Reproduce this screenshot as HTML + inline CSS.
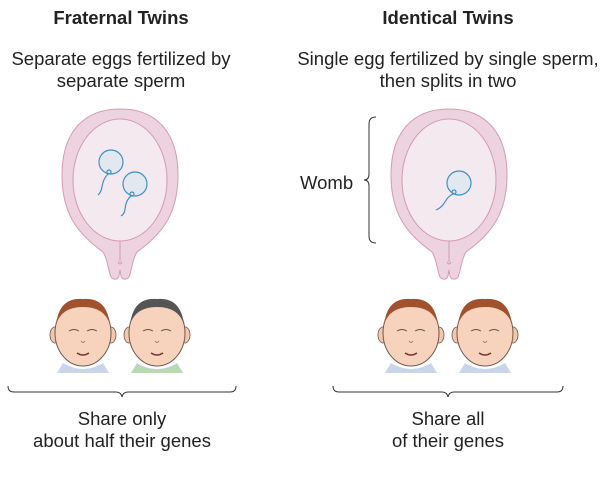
<!DOCTYPE html>
<html><head><style>
body{margin:0;background:#fff;}
svg text{font-family:"Liberation Sans",Arial,sans-serif;fill:#222;}
</style></head><body>
<svg width="600" height="472" viewBox="0 0 600 472" xmlns="http://www.w3.org/2000/svg">
<defs>
<g id="womb">
<path d="M0,109 C36,109 58,132 58,175 C58,214 42,234 17,252 C12,260 12,270 9,277 C7,280 2,280 1,276 L0,270 L-1,276 C-2,280 -7,280 -9,277 C-12,270 -12,260 -17,252 C-42,234 -58,214 -58,175 C-58,132 -36,109 0,109Z" fill="#ecd3df" stroke="#d59ab3" stroke-width="1"/>
<ellipse cx="0" cy="180" rx="47" ry="61" fill="#f5e9f0" stroke="#d59ab3" stroke-width="1"/>
<path d="M0,241 L0,262 M-2,262 Q0,266 2,262" stroke="#d59ab3" fill="none"/>
</g>
<g id="face">
<path d="M-20,30 Q0,42 20,30 L26,40 L-26,40Z" fill="#c9d6ea"/>
<ellipse cx="-28" cy="2" rx="5" ry="8" fill="#f3c6ad" stroke="#6a5a50" stroke-width="0.8"/>
<ellipse cx="28" cy="2" rx="5" ry="8" fill="#f3c6ad" stroke="#6a5a50" stroke-width="0.8"/>
<ellipse cx="0" cy="0" rx="28" ry="33" fill="#f7d3bd" stroke="#6a5a50" stroke-width="1"/>
<path d="M-14,-2 q5,-3 10,0 M4,-2 q5,-3 10,0" stroke="#555" fill="none"/>
<path d="M-2,8 q2,3 4,0" stroke="#a77" fill="none"/>
<path d="M-6,20 q6,4 12,0" stroke="#733" fill="none" stroke-width="1.5"/>
</g>
</defs>
<text x="121" y="24" font-size="18.5" font-weight="bold" text-anchor="middle">Fraternal Twins</text>
<text x="448" y="24" font-size="18.5" font-weight="bold" text-anchor="middle">Identical Twins</text>
<text x="121" y="65" font-size="18.5" text-anchor="middle">Separate eggs fertilized by</text>
<text x="121" y="87" font-size="18.5" text-anchor="middle">separate sperm</text>
<text x="448" y="65" font-size="18.5" text-anchor="middle">Single egg fertilized by single sperm,</text>
<text x="448" y="87" font-size="18.5" text-anchor="middle">then splits in two</text>

<use href="#womb" x="120" y="0"/>
<use href="#womb" x="449" y="0"/>

<g stroke="#3f8fc4" fill="#e2e8f0" stroke-width="1.2">
<circle cx="111" cy="162" r="12"/>
<circle cx="135" cy="184" r="12"/>
<circle cx="459" cy="183" r="12"/>
</g>
<g stroke="#3f8fc4" fill="none" stroke-width="1.2">
<circle cx="109" cy="172" r="2"/><path d="M108,174 C100,182 104,190 98,195"/>
<circle cx="132" cy="194" r="2"/><path d="M131,196 C122,204 128,212 121,216"/>
<circle cx="454" cy="192" r="2"/><path d="M453,194 C444,198 446,206 436,210"/>
</g>

<text x="300" y="189" font-size="18.5">Womb</text>
<path d="M376,117 Q369,117 369,124 L369,174 Q369,180 364,180 Q369,180 369,186 L369,236 Q369,243 376,243" fill="none" stroke="#333" stroke-width="1"/>

<g transform="translate(83,333)"><use href="#face"/><path d="M-27,-8 Q-24,-36 0,-34 Q24,-36 27,-8 Q22,-26 0,-26 Q-22,-26 -27,-8Z" fill="#a0522d"/></g>
<g transform="translate(157,333)"><use href="#face"/><path d="M-27,-8 Q-24,-36 0,-34 Q24,-36 27,-8 Q22,-26 0,-26 Q-22,-26 -27,-8Z" fill="#555"/><path d="M-20,31 Q0,42 20,31 L26,40 L-26,40Z" fill="#b9d9b0"/></g>
<g transform="translate(411,333)"><use href="#face"/><path d="M-27,-8 Q-24,-36 0,-34 Q24,-36 27,-8 Q22,-26 0,-26 Q-22,-26 -27,-8Z" fill="#a0522d"/></g>
<g transform="translate(485,333)"><use href="#face"/><path d="M-27,-8 Q-24,-36 0,-34 Q24,-36 27,-8 Q22,-26 0,-26 Q-22,-26 -27,-8Z" fill="#a0522d"/></g>

<path d="M8,386 Q8,392 14,392 L116,392 Q121,392 122,397 Q123,392 128,392 L230,392 Q236,392 236,386" fill="none" stroke="#333"/>
<path d="M333,386 Q333,392 339,392 L442,392 Q447,392 448,397 Q449,392 454,392 L557,392 Q563,392 563,386" fill="none" stroke="#333"/>

<text x="122" y="425" font-size="18.5" text-anchor="middle">Share only</text>
<text x="122" y="447" font-size="18.5" text-anchor="middle">about half their genes</text>
<text x="448" y="425" font-size="18.5" text-anchor="middle">Share all</text>
<text x="448" y="447" font-size="18.5" text-anchor="middle">of their genes</text>
</svg>
</body></html>
